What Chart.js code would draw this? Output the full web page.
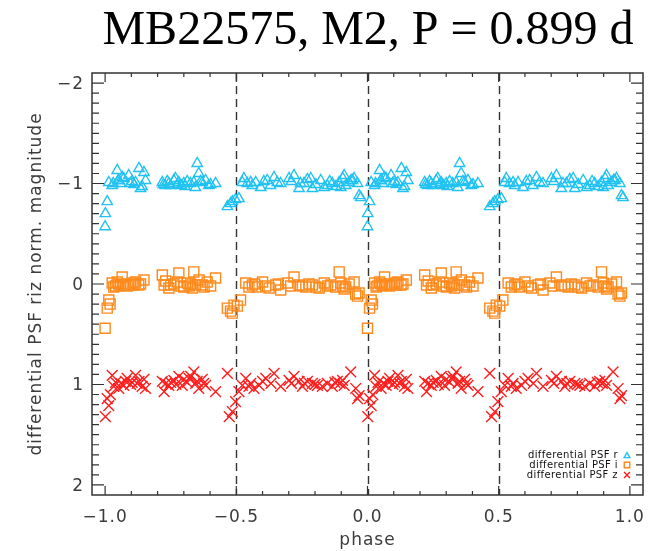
<!DOCTYPE html>
<html lang="en">
  <head>
    <meta charset="UTF-8" />
    <meta name="viewport" content="width=device-width, initial-scale=1.0" />
    <title>MB22575 light curve</title>
    <script src="https://cdn.jsdelivr.net/npm/chart.js"></script>
    <style>
      html, body { margin: 0; padding: 0; background: #fff; }
      #wrap { width: 656px; height: 551px; }
    </style>
  </head>
  <body>
    <div id="wrap"><canvas id="lcChart"></canvas></div>

    <script>
      // Folded phase (0..1) and differential magnitude per band
      const rPhase = [0.000, 0.001, 0.008, 0.014, 0.027, 0.031, 0.046, 0.050, 0.052, 0.058, 0.065, 0.071, 0.090, 0.096, 0.103, 0.110,
                      0.116, 0.129, 0.135, 0.141, 0.148, 0.154,
                      0.218, 0.222, 0.229, 0.237, 0.243, 0.250, 0.262, 0.268, 0.275, 0.281, 0.290, 0.300, 0.305, 0.313, 0.325,
                      0.338, 0.344, 0.351, 0.357, 0.364, 0.370, 0.383, 0.395, 0.402, 0.421,
                      0.466, 0.478, 0.485, 0.497, 0.510, 0.523, 0.529, 0.542, 0.555, 0.561, 0.574, 0.593, 0.605, 0.618, 0.630,
                      0.644, 0.656, 0.669, 0.701, 0.710, 0.720, 0.739, 0.745, 0.758, 0.771, 0.784, 0.790, 0.803, 0.822, 0.835,
                      0.847, 0.856, 0.866, 0.879, 0.892, 0.898, 0.906, 0.911, 0.917, 0.930, 0.938, 0.943, 0.949, 0.962, 0.968, 0.974];
      const rMag = [-0.57, -0.70, -0.82, -1.01, -0.98, -1.00, -1.13, -1.03, -1.03, -1.00, -1.06, -1.05, -1.08, -1.00, -1.02, -0.99,
                    -1.01, -1.15, -0.95, -0.97, -1.11, -1.03,
                    -1.01, -0.99, -0.98, -1.02, -1.00, -0.98, -1.03, -1.05, -0.99, -1.01, -0.98, -1.00, -0.97, -1.02, -1.00,
                    -1.01, -0.96, -1.20, -1.10, -1.02, -1.01, -1.03, -0.98, -0.99, -1.00,
                    -0.77, -0.80, -0.82, -0.84, -0.85, -1.01, -1.05, -1.00, -1.01, -0.98, -1.01, -0.96, -1.02, -1.03, -0.98,
                    -1.06, -1.01, -1.00, -1.05, -1.02, -1.08, -0.95, -1.00, -1.00, -1.04, -1.05, -0.95, -0.99, -1.03, -0.96,
                    -0.98, -1.02, -1.00, -0.97, -1.01, -0.96, -1.05, -1.08, -0.98, -1.01, -1.03, -1.03, -1.05, -1.00, -0.88, -0.86];

      const iPhase = [0.000, 0.008, 0.014, 0.019, 0.027, 0.033, 0.040, 0.046, 0.052, 0.058, 0.065, 0.071, 0.084, 0.090, 0.103, 0.110,
                      0.116, 0.128, 0.135, 0.148,
                      0.218, 0.225, 0.231, 0.243, 0.250, 0.262, 0.275, 0.281, 0.288, 0.300, 0.313, 0.320, 0.326, 0.332, 0.338,
                      0.345, 0.358, 0.370, 0.377, 0.389, 0.402, 0.421,
                      0.466, 0.478, 0.485, 0.491, 0.504, 0.516, 0.536, 0.548, 0.561, 0.570, 0.580, 0.600, 0.612, 0.625, 0.650,
                      0.660, 0.669, 0.695, 0.707, 0.720, 0.739, 0.752, 0.765, 0.777, 0.790, 0.803, 0.816, 0.835, 0.848, 0.860,
                      0.879, 0.892, 0.898, 0.905, 0.911, 0.917, 0.930, 0.949, 0.955, 0.962, 0.968];
      const iMag = [0.44, 0.24, 0.16, 0.20, -0.01, 0.03, 0.02, -0.02, 0.00, 0.01, -0.07, 0.01, 0.02, 0.00, -0.01, 0.01,
                    -0.02, 0.01, 0.00, -0.04,
                    -0.09, 0.01, -0.03, 0.04, 0.01, 0.00, -0.02, -0.11, 0.02, 0.03, -0.01, 0.02, 0.00, 0.04, -0.12,
                    0.01, -0.04, 0.01, 0.03, -0.02, 0.02, -0.06,
                    0.24, 0.27, 0.29, 0.21, 0.22, 0.16, -0.01, 0.03, 0.01, 0.00, 0.03, -0.02, 0.02, 0.04, 0.01,
                    0.00, 0.06, -0.01, 0.02, -0.07, 0.01, 0.02, 0.03, 0.00, 0.01, 0.03, 0.04, -0.01, 0.02, 0.01,
                    0.03, -0.12, -0.01, 0.02, 0.05, 0.03, 0.00, -0.02, 0.10, 0.12, 0.09];

      const zPhase = [0.001, 0.008, 0.014, 0.020, 0.027, 0.033, 0.040, 0.052, 0.060, 0.071, 0.078, 0.084, 0.097, 0.103, 0.116, 0.122,
                      0.129, 0.141, 0.148, 0.154,
                      0.218, 0.225, 0.231, 0.243, 0.250, 0.262, 0.270, 0.281, 0.294, 0.300, 0.313, 0.320, 0.326, 0.338, 0.345,
                      0.351, 0.357, 0.370, 0.376, 0.383, 0.421,
                      0.466, 0.473, 0.485, 0.497, 0.510, 0.523, 0.536, 0.548, 0.555, 0.567, 0.587, 0.600, 0.612, 0.632, 0.644,
                      0.669, 0.701, 0.710, 0.720, 0.739, 0.752, 0.760, 0.771, 0.790, 0.800, 0.809, 0.828, 0.847, 0.866, 0.876,
                      0.885, 0.895, 0.905, 0.911, 0.936, 0.955, 0.962, 0.968];
      const zMag = [1.32, 1.14, 1.21, 1.10, 0.91, 1.02, 0.98, 1.04, 0.99, 1.01, 0.97, 0.94, 1.00, 0.98, 0.91, 0.99,
                    0.97, 1.02, 0.95, 1.04,
                    0.97, 1.07, 0.99, 1.01, 0.98, 0.96, 1.00, 0.92, 1.01, 0.95, 0.98, 0.94, 0.92, 0.875, 0.99,
                    0.97, 1.04, 0.95, 0.99, 1.01, 1.07,
                    0.89, 1.32, 1.27, 1.17, 1.07, 1.01, 0.94, 1.02, 0.99, 1.04, 1.01, 0.97, 0.94, 0.99, 0.89,
                    1.02, 0.96, 0.99, 0.92, 0.97, 1.02, 0.99, 0.97, 0.99, 1.00, 1.01, 1.02, 0.99, 1.02, 0.98,
                    0.97, 0.99, 0.96, 1.01, 0.875, 1.04, 1.14, 1.11];

      const xTicks = [-1.0, -0.5, 0.0, 0.5, 1.0];
      const yTicks = [-2, -1, 0, 1, 2];
      const eclipsePhases = [-0.5, 0.0, 0.5];

      const bands = [
        { label: "differential PSF r", phase: rPhase, mag: rMag, color: "#22c2f2", style: "triangle", radius: 6 },
        { label: "differential PSF i", phase: iPhase, mag: iMag, color: "#ff8a1c", style: "rect", radius: 7.1 },
        { label: "differential PSF z", phase: zPhase, mag: zMag, color: "#ff1e1e", style: "crossRot", radius: 7.6 },
      ];

      // each point is shown twice: once in -1..0 and once in 0..1
      function fold(phase, mag) {
        const pts = [];
        phase.forEach((p, k) => {
          pts.push({ x: p - 1, y: mag[k] });
          pts.push({ x: p, y: mag[k] });
        });
        return pts;
      }

      const AXIS = "#333333";
      const LABEL = "#3c3c3c";
      const SANS = '"DejaVu Sans", sans-serif';
      const minus = (s) => s.replace("-", "\u2212");

      const decorations = {
        id: "decorations",
        beforeDatasetsDraw(chart) {
          const { ctx, chartArea: a, scales } = chart;
          ctx.save();
          ctx.strokeStyle = AXIS;
          ctx.lineWidth = 1.4;
          ctx.setLineDash([8, 5]);
          eclipsePhases.forEach((p) => {
            const x = Math.round(scales.x.getPixelForValue(p)) + 0.5;
            ctx.beginPath();
            ctx.moveTo(x, a.top);
            ctx.lineTo(x, a.bottom);
            ctx.stroke();
          });
          ctx.restore();
        },
        afterDatasetsDraw(chart) {
          const { ctx, chartArea: a, scales } = chart;
          const xs = scales.x, ys = scales.y;
          ctx.save();

          // frame
          ctx.strokeStyle = AXIS;
          ctx.lineWidth = 1.5;
          ctx.strokeRect(a.left, a.top, a.right - a.left, a.bottom - a.top);

          // inward ticks, majors plus tenths
          ctx.lineWidth = 1.2;
          ctx.beginPath();
          for (let k = -10; k <= 10; k++) {
            const x = xs.getPixelForValue(k / 10);
            const len = k % 5 === 0 ? 9 : 4;
            ctx.moveTo(x, a.bottom); ctx.lineTo(x, a.bottom - len);
            ctx.moveTo(x, a.top); ctx.lineTo(x, a.top + len);
          }
          for (let k = -20; k <= 20; k++) {
            const y = ys.getPixelForValue(k / 10);
            const len = k % 10 === 0 ? 12 : 7;
            ctx.moveTo(a.left, y); ctx.lineTo(a.left + len, y);
            ctx.moveTo(a.right, y); ctx.lineTo(a.right - len, y);
          }
          ctx.stroke();

          // tick labels
          ctx.fillStyle = LABEL;
          ctx.font = "17px " + SANS;
          ctx.letterSpacing = "1px";
          ctx.textAlign = "center";
          ctx.textBaseline = "middle";
          xTicks.forEach((v) => {
            ctx.fillText(minus(v.toFixed(1)), xs.getPixelForValue(v), a.bottom + 23);
          });
          ctx.textAlign = "right";
          yTicks.forEach((v) => {
            ctx.fillText(minus(String(v)), a.left - 8, ys.getPixelForValue(v) + 1.5);
          });

          // axis titles
          ctx.textAlign = "center";
          ctx.textBaseline = "alphabetic";
          ctx.fillText("phase", (a.left + a.right) / 2, 545);
          ctx.save();
          ctx.translate(41, (a.top + a.bottom) / 2);
          ctx.rotate(-Math.PI / 2);
          ctx.fillText("differential PSF riz norm. magnitude", 0, 0);
          ctx.restore();

          // legend, bottom right inside the frame
          ctx.font = "10px " + SANS;
          ctx.letterSpacing = "0.4px";
          ctx.fillStyle = "#111";
          ctx.textAlign = "right";
          ctx.textBaseline = "middle";
          bands.forEach((b, k) => {
            const y = 455 + k * 10;
            ctx.fillStyle = "#111";
            ctx.fillText(b.label, 618, y);
            ctx.fillStyle = "rgba(0,0,0,0)";
            ctx.strokeStyle = b.color;
            ctx.lineWidth = 1.4;
            Chart.helpers.drawPoint(ctx, { pointStyle: b.style, radius: b.radius * 0.55, borderWidth: 1.4 }, 627, y + (b.style === "triangle" ? 1 : 0));
          });

          // title
          ctx.letterSpacing = "0px";
          ctx.fillStyle = "#000";
          ctx.font = '48px "Liberation Serif", serif';
          ctx.textAlign = "center";
          ctx.textBaseline = "alphabetic";
          ctx.fillText("MB22575, M2, P = 0.899 d", 368, 44);
          ctx.restore();
        },
      };

      const ctx = document.getElementById("lcChart").getContext("2d");
      const lcChart = new Chart(ctx, {
        type: "scatter",
        data: {
          datasets: bands.map((b) => ({
            label: b.label,
            data: fold(b.phase, b.mag),
            pointStyle: b.style,
            pointRadius: b.radius,
            borderColor: b.color,
            backgroundColor: "rgba(0,0,0,0)",
            borderWidth: 1.4,
          })),
        },
        options: {
          responsive: true,
          maintainAspectRatio: false,
          animation: false,
          layout: { padding: { top: 73, right: 13, left: 0, bottom: 0 } },
          plugins: { legend: { display: false }, tooltip: { enabled: false } },
          scales: {
            x: {
              type: "linear",
              min: -1.05,
              max: 1.05,
              grid: { display: false, drawTicks: false },
              border: { display: false },
              ticks: { display: false },
              afterFit: (s) => { s.height = 56; },
            },
            y: {
              type: "linear",
              reverse: true,
              min: -2.1,
              max: 2.1,
              grid: { display: false, drawTicks: false },
              border: { display: false },
              ticks: { display: false },
              afterFit: (s) => { s.width = 92; },
            },
          },
        },
        plugins: [decorations],
      });
    </script>
  </body>
</html>
